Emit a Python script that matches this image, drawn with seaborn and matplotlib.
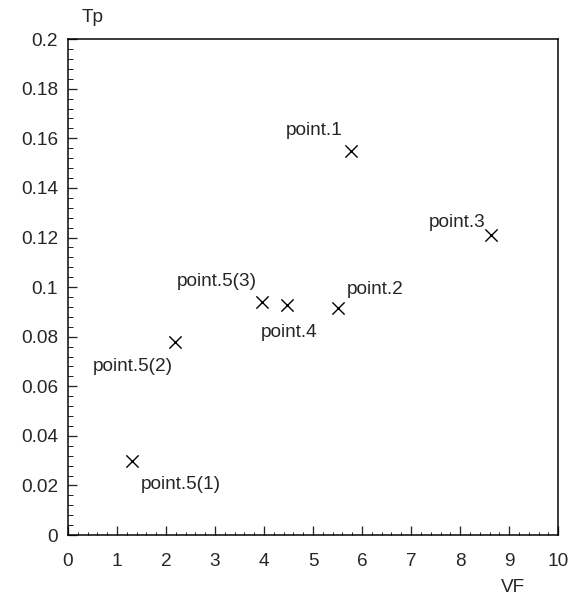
import matplotlib
matplotlib.use("Agg")
import matplotlib.pyplot as plt
import seaborn as sns
import pandas as pd
from matplotlib.ticker import MultipleLocator

# values
vf = [5.77, 5.5, 8.63, 4.46, 1.3, 2.19, 3.95]
tp = [0.155, 0.0915, 0.121, 0.0928, 0.030, 0.078, 0.094]
names = ["point.1", "point.2", "point.3", "point.4",
         "point.5(1)", "point.5(2)", "point.5(3)"]
# where each label sits relative to its marker
offsets = [(-8, 20, "right"), (9, 19, "left"), (-5, 13, "right"), (3, -28, "center"),
           (9, -24, "left"), (-3, -25, "right"), (-5, 20, "right")]

df = pd.DataFrame({"VF": vf, "Tp": tp, "name": names})

sns.set_style("ticks")
plt.rcParams["font.family"] = ["Liberation Sans", "DejaVu Sans"]

fig = plt.figure(figsize=(576 / 72, 596 / 72), dpi=72)
ax = fig.add_axes([0.118, 0.1023, 0.851, 0.832])

sns.scatterplot(data=df, x="VF", y="Tp", marker="x", color="black",
                s=150, linewidth=1.4, ax=ax, legend=False)

for (x, y, lab), (dx, dy, ha) in zip(zip(vf, tp, names), offsets):
    ax.annotate(lab, (x, y), xytext=(dx, dy), textcoords="offset points",
                ha=ha, va="center", fontsize=19)

ax.set_xlim(0, 10)
ax.set_ylim(0, 0.2)
ax.xaxis.set_major_locator(MultipleLocator(1))
ax.xaxis.set_minor_locator(MultipleLocator(0.2))
ax.yaxis.set_minor_locator(MultipleLocator(0.004))
ax.set_yticks([0, 0.02, 0.04, 0.06, 0.08, 0.1, 0.12, 0.14, 0.16, 0.18, 0.2])
ax.set_yticklabels(["0", "0.02", "0.04", "0.06", "0.08", "0.1", "0.12",
                    "0.14", "0.16", "0.18", "0.2"])
ax.tick_params(which="both", top=False, right=False)
ax.tick_params(which="major", direction="in", length=9, width=1.3,
               labelsize=19, pad=10)
ax.tick_params(axis="x", which="major", pad=18)
ax.tick_params(axis="y", which="minor", direction="in", length=5, width=1)
ax.tick_params(axis="x", which="minor", direction="in", length=3, width=1)
for sp in ax.spines.values():
    sp.set_linewidth(1.5)
    sp.set_color("black")

ax.set_xlabel("")
ax.set_ylabel("")
fig.text(93 / 576, 1 - 18 / 596, "Tp", fontsize=19, ha="center", va="center")
fig.text(513 / 576, 1 - 587 / 596, "VF", fontsize=19, ha="center", va="center")

fig.savefig("out.png", dpi=72)
